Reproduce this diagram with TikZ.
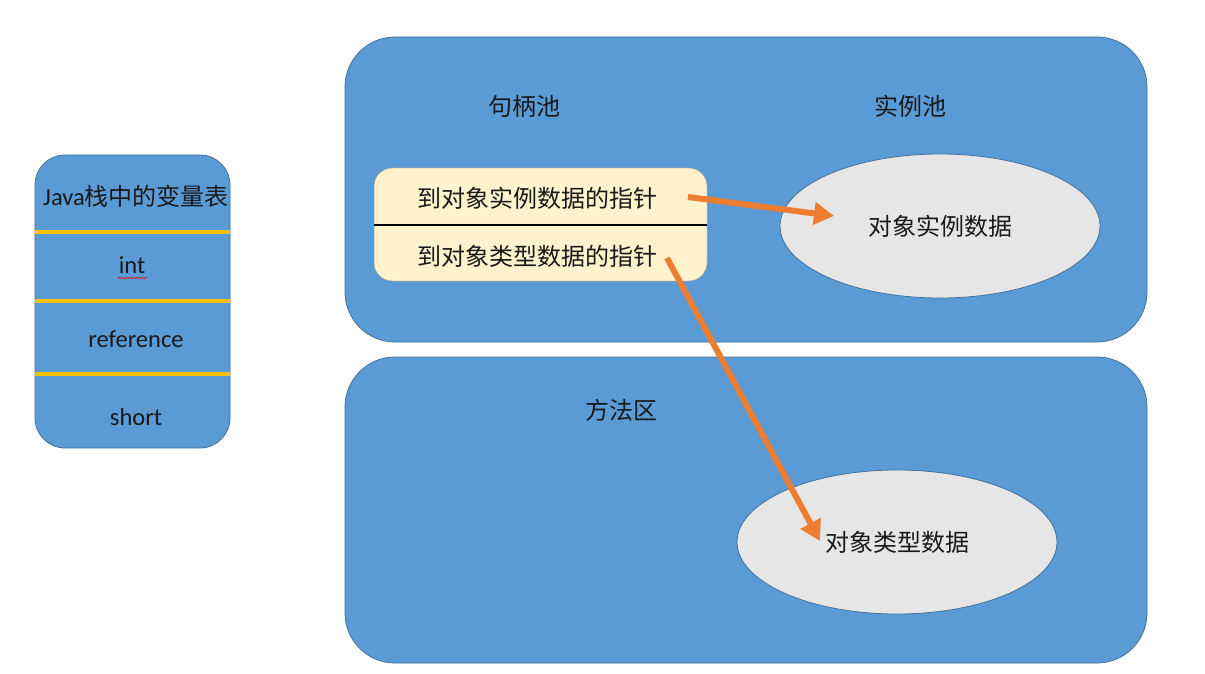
\documentclass[tikz,border=0pt]{standalone}
\usepackage{fontspec}
\setmainfont{Carlito}
\newfontfamily\cjk{Noto Sans CJK SC}
\usetikzlibrary{arrows.meta,decorations.pathmorphing,shapes.geometric}
\definecolor{boxblue}{HTML}{5B9BD5}
\definecolor{edgeblue}{HTML}{41719C}
\definecolor{gold}{HTML}{FFC000}
\definecolor{cream}{HTML}{FFF2CC}
\definecolor{lgray}{HTML}{E7E6E6}
\definecolor{orng}{HTML}{ED7D31}
\tikzset{
  panel/.style={draw=edgeblue, line width=0.8pt, fill=boxblue, rounded corners=50pt},
  ell/.style={draw=edgeblue, line width=0.8pt, fill=lgray},
  sep/.style={draw=gold, line width=4pt},
  txt/.style={font=\fontsize{24.5}{28}\selectfont, text=black!90, inner sep=0pt},
  ctxt/.style={font=\cjk\fontsize{24}{28}\selectfont, text=black!90, inner sep=0pt},
  parrow/.style={draw=orng, line width=6pt, -{Triangle[length=20pt,width=22pt]}, shorten >=0pt}
}
\begin{document}
\begin{tikzpicture}[x=1pt,y=-1pt]
\useasboundingbox (0,0) rectangle (1205,674);
% left stack box
\draw[draw=edgeblue, line width=0.8pt, fill=boxblue, rounded corners=30pt] (35,155) rectangle (230,448);
\draw[sep] (35,232) -- (230,232);
\draw[sep] (35,301) -- (230,301);
\draw[sep] (35,374) -- (230,374);
\node[txt] (title) at (136,196) {Java{\cjk\fontsize{24}{28}\selectfont 栈中的变量表}};
\node[txt] (int) at (132,265) {int};
\draw[red, line width=0.5pt, decorate, decoration={snake, amplitude=0.9pt, segment length=3pt}] (118,278) -- (147,278);
\node[txt] (ref) at (136,339) {reference};
\node[txt] (short) at (136,417) {short};
% panels
\draw[panel] (345,37) rectangle (1147,342);
\draw[panel] (345,357) rectangle (1147,663);
\node[ctxt] (hp) at (524,106) {句柄池};
\node[ctxt] (ip) at (910,106) {实例池};
\node[ctxt] (ma) at (621,410) {方法区};
% handle box
\draw[draw=black!40, line width=0.5pt, fill=cream, rounded corners=18pt] (374,168) rectangle (707,281);
\draw[black, line width=2.5pt] (374,225) -- (707,225);
\node[ctxt] (p1) at (537,198) {到对象实例数据的指针};
\node[ctxt] (p2) at (537,256) {到对象类型数据的指针};
% ellipses
\node[ell, ellipse, minimum width=320pt, minimum height=144pt, inner sep=0pt] (e1) at (940,226) {};
\node[ctxt] (e1t) at (940,226) {对象实例数据};
\node[ell, ellipse, minimum width=320pt, minimum height=144pt, inner sep=0pt] (e2) at (897,542) {};
\node[ctxt] (e2t) at (897,542) {对象类型数据};
% arrow endpoints
\coordinate (a1s) at (688,197);
\coordinate (a1e) at (834,216);
\coordinate (a2s) at (667,258);
\coordinate (a2e) at (820,541);
\draw[parrow] (a1s) -- (a1e);
\draw[parrow] (a2s) -- (a2e);
\end{tikzpicture}
\end{document}
